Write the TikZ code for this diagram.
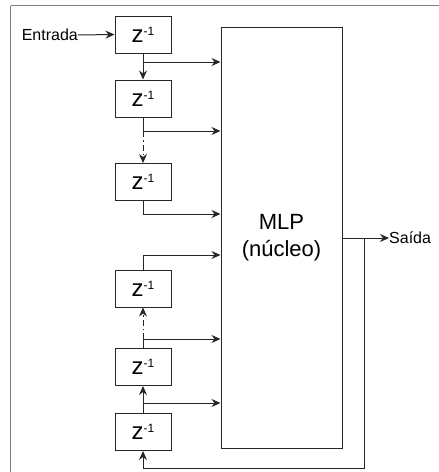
\documentclass[tikz,border=0pt]{standalone}
\usepackage{fontspec}
\setmainfont{Liberation Sans}
\usetikzlibrary{arrows.meta,positioning}
\tikzset{
  zbox/.style={draw=black!85, line width=1pt, minimum width=56pt, minimum height=37pt, inner sep=0pt},
  mlpbox/.style={draw=black!85, line width=1pt, minimum width=121pt, minimum height=421pt, inner sep=0pt, align=center, font=\fontsize{22}{27}\selectfont},
  lbl/.style={inner sep=0pt, font=\fontsize{16}{18}\selectfont},
  wire/.style={line width=1pt, black!85},
  arr/.style={wire, -{Stealth[length=9pt,width=8pt,inset=3pt]}},
  dsh/.style={dash pattern=on 6pt off 3pt on 1.5pt off 3pt},
  frame/.style={line width=1.6pt, black!50}
}
\newcommand{\zinv}{{\fontsize{24}{26}\selectfont z\raisebox{7pt}{\fontsize{12}{13}\selectfont -1}}}
\begin{document}
\begin{tikzpicture}[x=1pt,y=-1pt]
\useasboundingbox (0,0) rectangle (439,472);
\draw[frame] (10.5,5.5) -- (439,5.5);
\draw[frame] (10.5,5.5) -- (10.5,472);

\node[zbox] (b1) at (143,34.5) {\zinv};
\node[zbox] (b2) at (143,98.5) {\zinv};
\node[zbox] (b3) at (143,182) {\zinv};
\node[zbox] (b4) at (143,288.5) {\zinv};
\node[zbox] (b5) at (143,367) {\zinv};
\node[zbox] (b6) at (143,432) {\zinv};
\node[mlpbox] (mlp) at (281.5,237.5) {MLP\\(núcleo)};

\node[lbl, anchor=east] (ent) at (78,35) {Entrada};
\node[lbl, anchor=west] (sai) at (389,238) {Saída};

\coordinate (j1) at (143,62);
\coordinate (j2) at (143,131);
\coordinate (j3) at (143,214);
\coordinate (j4) at (143,255);
\coordinate (j5) at (143,339);
\coordinate (j6) at (143,403);
\coordinate (jo) at (364,238);
\coordinate (f1) at (364,468);
\coordinate (f2) at (143,468);

\draw[arr] (ent.east) -- (b1.west);
\draw[arr] (b1.south) -- (b2.north);
\draw[arr] (j1) -- (j1 -| mlp.west);
\draw[wire] (b2.south) -- (j2);
\draw[arr] (j2) -- (j2 -| mlp.west);
\draw[arr,dsh] (j2) -- (b3.north);
\draw[arr] (b3.south) |- (j3 -| mlp.west);
\draw[arr] (b4.north) |- (j4 -| mlp.west);
\draw[wire] (b5.north) -- (j5);
\draw[arr] (j5) -- (j5 -| mlp.west);
\draw[arr,dsh] (j5) -- (b4.south);
\draw[arr] (b6.north) -- (b5.south);
\draw[arr] (j6) -- (j6 -| mlp.west);
\draw[arr] (mlp.east |- jo) -- (sai.west);
\draw[arr] (jo) -- (f1) -- (f2) -- (b6.south);
\end{tikzpicture}
\end{document}
